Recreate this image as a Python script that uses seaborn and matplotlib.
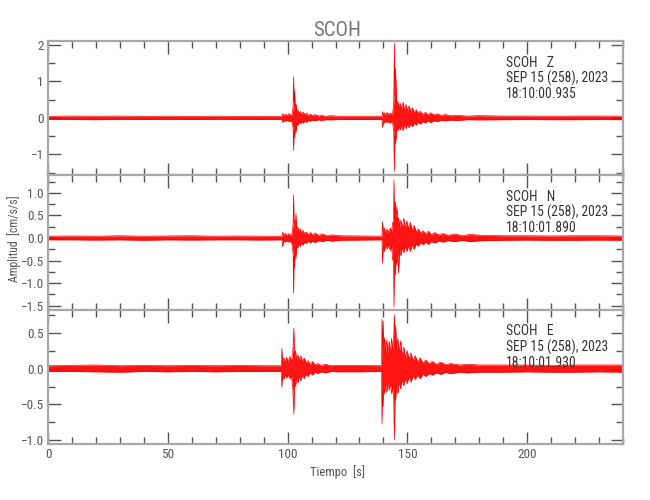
import numpy as np
import matplotlib
matplotlib.use("Agg")
import matplotlib.pyplot as plt
from matplotlib import font_manager as fm
import seaborn as sns
from matplotlib.ticker import MultipleLocator, FuncFormatter

# --- données : enveloppe (haut / bas) de chaque trace ---
station = "SCOH"
composantes = ["Z", "N", "E"]
date_txt = "SEP 15 (258), 2023"
heures = ["18:10:00.935", "18:10:01.890", "18:10:01.930"]

# composante Z
t_z = [0, 10, 20, 30, 40, 50, 60, 70, 80, 90, 97.5,
       97.9, 98.5, 99.2, 99.9, 100.6, 101.3, 101.9, 102.3, 102.5, 102.7, 102.9, 103.2, 103.5,
       103.9, 104.3, 104.8, 105.3, 105.9, 106.5, 107.2, 107.9, 108.7, 109.5, 110.5, 111.5,
       113, 114, 116, 118, 121, 130, 139.4,
       139.6, 140.0, 140.5, 141.0, 141.6, 142.2, 142.8, 143.4, 143.9, 144.3, 144.6, 144.8,
       145.0, 145.3, 145.6, 146.0, 146.5, 147.0, 147.6, 148.2, 148.8, 149.4, 150.0, 150.7,
       151.4, 152.1, 152.9, 153.7, 154.5, 155.4, 156.4, 157.5, 158.6, 159.8, 161, 162.5, 164,
       166, 168, 171, 175, 180, 190, 200, 210, 220, 230, 240]
z_up = [0.04, 0.05, 0.045, 0.05, 0.04, 0.045, 0.04, 0.045, 0.04, 0.04, 0.04,
        0.11, 0.07, 0.10, 0.06, 0.12, 0.07, 0.10, 0.30, 1.12, 0.45, 0.73, 0.30, 0.38,
        0.18, 0.22, 0.12, 0.18, 0.10, 0.16, 0.09, 0.13, 0.07, 0.10, 0.06, 0.09,
        0.05, 0.07, 0.045, 0.06, 0.045, 0.045, 0.045,
        0.17, 0.09, 0.14, 0.08, 0.15, 0.09, 0.13, 0.10, 0.16, 0.40, 2.04, 0.60,
        1.36, 0.86, 0.35, 0.45, 0.28, 0.40, 0.25, 0.43, 0.22, 0.37, 0.20, 0.33,
        0.18, 0.28, 0.15, 0.22, 0.13, 0.18, 0.10, 0.15, 0.09, 0.14, 0.08, 0.11, 0.07,
        0.09, 0.06, 0.07, 0.05, 0.06, 0.05, 0.05, 0.045, 0.05, 0.05, 0.045]
z_lo = [-0.04, -0.045, -0.05, -0.04, -0.045, -0.04, -0.045, -0.04, -0.04, -0.045, -0.04,
        -0.12, -0.08, -0.09, -0.07, -0.10, -0.08, -0.13, -0.30, -0.89, -0.35, -0.53, -0.25, -0.40,
        -0.16, -0.20, -0.12, -0.16, -0.11, -0.14, -0.09, -0.12, -0.07, -0.09, -0.06, -0.08,
        -0.05, -0.07, -0.05, -0.055, -0.045, -0.045, -0.045,
        -0.26, -0.10, -0.14, -0.09, -0.13, -0.10, -0.15, -0.09, -0.15, -0.40, -1.46, -0.50,
        -0.70, -0.55, -0.30, -0.35, -0.22, -0.33, -0.20, -0.35, -0.18, -0.30, -0.17, -0.27,
        -0.16, -0.24, -0.14, -0.20, -0.12, -0.17, -0.10, -0.14, -0.08, -0.13, -0.08, -0.10, -0.07,
        -0.08, -0.06, -0.07, -0.05, -0.055, -0.05, -0.045, -0.05, -0.05, -0.045, -0.05]

# composante N
t_n = [0, 10, 20, 30, 40, 50, 60, 70, 80, 90, 97.7,
       97.9, 98.4, 99.0, 99.7, 100.4, 101.1, 101.8, 102.3, 102.5, 102.7, 102.9, 103.2, 103.5,
       103.8, 104.2, 104.7, 105.2, 105.8, 106.4, 107.1, 107.8, 108.6, 109.5, 110.5, 111.5,
       113, 114.5, 116.5, 118.5, 122, 130, 139.4,
       139.6, 139.9, 140.4, 141.0, 141.6, 142.2, 142.8, 143.4, 143.9, 144.2, 144.4, 144.7,
       145.0, 145.3, 145.6, 146.0, 146.3, 146.8, 147.3, 147.9, 148.5, 149.1, 149.8, 150.5,
       151.2, 152.0, 152.8, 153.7, 154.6, 155.6, 156.6, 157.7, 158.8, 160, 161.5, 163, 165,
       167, 170, 173, 176, 181, 190, 200, 210, 220, 230, 240]
n_up = [0.04, 0.045, 0.04, 0.05, 0.04, 0.045, 0.05, 0.04, 0.045, 0.04, 0.04,
        0.13, 0.07, 0.10, 0.06, 0.10, 0.06, 0.10, 0.30, 0.95, 0.35, 0.40, 0.25, 0.54,
        0.20, 0.25, 0.14, 0.21, 0.12, 0.17, 0.10, 0.13, 0.08, 0.12, 0.07, 0.11,
        0.06, 0.09, 0.05, 0.07, 0.05, 0.045, 0.04,
        0.36, 0.15, 0.22, 0.12, 0.20, 0.12, 0.22, 0.15, 0.35, 0.30, 1.29, 0.45,
        0.80, 0.40, 0.70, 0.35, 0.45, 0.25, 0.40, 0.22, 0.44, 0.22, 0.38, 0.20,
        0.35, 0.18, 0.28, 0.14, 0.20, 0.11, 0.16, 0.09, 0.15, 0.08, 0.12, 0.07, 0.10,
        0.06, 0.09, 0.05, 0.08, 0.06, 0.05, 0.05, 0.045, 0.05, 0.05, 0.045]
n_lo = [-0.04, -0.04, -0.045, -0.04, -0.05, -0.04, -0.045, -0.04, -0.04, -0.045, -0.04,
        -0.19, -0.07, -0.09, -0.06, -0.09, -0.07, -0.12, -0.35, -1.22, -0.40, -0.65, -0.25, -0.45,
        -0.18, -0.22, -0.12, -0.19, -0.11, -0.16, -0.09, -0.12, -0.07, -0.11, -0.07, -0.10,
        -0.06, -0.08, -0.05, -0.07, -0.05, -0.045, -0.04,
        -0.56, -0.18, -0.30, -0.14, -0.25, -0.14, -0.28, -0.18, -0.50, -0.40, -1.53, -0.50,
        -0.82, -0.35, -0.60, -0.30, -0.78, -0.25, -0.40, -0.20, -0.33, -0.18, -0.30, -0.17,
        -0.30, -0.15, -0.25, -0.13, -0.18, -0.10, -0.15, -0.09, -0.14, -0.08, -0.11, -0.07, -0.09,
        -0.06, -0.08, -0.05, -0.08, -0.06, -0.05, -0.045, -0.05, -0.05, -0.045, -0.05]

# composante E
t_e = [0, 10, 20, 30, 40, 50, 60, 70, 80, 90, 97.4,
       97.6, 97.9, 98.4, 99.0, 99.6, 100.2, 100.9, 101.6, 102.2, 102.6, 102.9, 103.3, 103.8,
       104.3, 104.9, 105.5, 106.2, 106.9, 107.7, 108.5, 109.4, 110.4, 111.5, 112.6, 114, 116,
       118, 121, 130, 139.2,
       139.4, 139.7, 139.9, 140.2, 140.5, 140.9, 141.4, 141.9, 142.4, 142.9, 143.4, 143.9,
       144.3, 144.6, 144.9, 145.1, 145.5, 146.0, 146.6, 147.2, 147.8, 148.5, 149.2, 149.9,
       150.7, 151.5, 152.4, 153.3, 154.3, 155.3, 156.5, 157.7, 159, 160.5, 162, 164, 166, 168,
       172, 175, 180, 190, 200, 210, 220, 230, 240]
e_up = [0.04, 0.045, 0.05, 0.04, 0.045, 0.04, 0.045, 0.04, 0.045, 0.04, 0.04,
        0.28, 0.10, 0.15, 0.09, 0.16, 0.09, 0.17, 0.10, 0.25, 0.56, 0.15, 0.25, 0.12,
        0.19, 0.11, 0.18, 0.10, 0.15, 0.08, 0.11, 0.06, 0.10, 0.05, 0.07, 0.045, 0.06,
        0.04, 0.045, 0.045, 0.04,
        0.69, 0.30, 0.66, 0.25, 0.43, 0.22, 0.40, 0.20, 0.38, 0.22, 0.42, 0.25,
        0.45, 0.75, 0.30, 0.60, 0.25, 0.42, 0.22, 0.39, 0.18, 0.30, 0.15, 0.25,
        0.13, 0.22, 0.11, 0.18, 0.09, 0.15, 0.08, 0.12, 0.07, 0.10, 0.06, 0.09, 0.055, 0.07,
        0.05, 0.06, 0.05, 0.05, 0.05, 0.045, 0.05, 0.05, 0.05]
e_lo = [-0.04, -0.04, -0.045, -0.05, -0.04, -0.045, -0.04, -0.045, -0.04, -0.04, -0.04,
        -0.26, -0.10, -0.15, -0.08, -0.13, -0.09, -0.14, -0.10, -0.30, -0.63, -0.15, -0.25, -0.12,
        -0.20, -0.10, -0.17, -0.09, -0.14, -0.08, -0.11, -0.06, -0.09, -0.05, -0.07, -0.045, -0.06,
        -0.04, -0.045, -0.045, -0.04,
        -0.77, -0.30, -0.53, -0.22, -0.35, -0.20, -0.33, -0.18, -0.30, -0.20, -0.35, -0.25,
        -0.45, -0.99, -0.30, -0.44, -0.20, -0.35, -0.18, -0.28, -0.15, -0.24, -0.13, -0.21,
        -0.11, -0.19, -0.10, -0.15, -0.09, -0.14, -0.08, -0.11, -0.07, -0.09, -0.06, -0.08, -0.055, -0.07,
        -0.05, -0.06, -0.05, -0.05, -0.045, -0.05, -0.05, -0.045, -0.05]

traces = [(t_z, z_up, z_lo), (t_n, n_up, n_lo), (t_e, e_up, e_lo)]
ylims = [(-1.57, 2.1), (-1.59, 1.39), (-1.05, 0.82)]
ymaj = [1, 0.5, 0.5]
ymin_ = [0.5, 0.25, 0.25]
yfmt = ["{:g}", "{:.1f}", "{:.1f}"]

sns.set_style("ticks")

# police étroite si disponible (le tracé d'origine utilise une police fine et serrée)
noms = {f.name for f in fm.fontManager.ttflist}
police = "DejaVu Sans"
for cand in ["Liberation Sans Narrow", "Roboto Condensed", "Open Sans Condensed",
             "DejaVu Sans Condensed"]:
    if cand in noms:
        police = cand
        break
plt.rcParams["font.family"] = [police, "DejaVu Sans"]
if police == "DejaVu Sans":
    etroits = [f.stretch for f in fm.fontManager.ttflist
               if f.name == "DejaVu Sans" and f.stretch not in ("normal", 500)]
    if etroits:
        plt.rcParams["font.stretch"] = etroits[0]

gris_axe = "#a8a8a8"
gris_txt = "#555555"

fig = plt.figure(figsize=(6.5, 5), dpi=100)
gs = fig.add_gridspec(3, 1, left=48 / 650, right=623 / 650, top=1 - 41 / 500,
                      bottom=1 - 444 / 500, hspace=0)

for i, (t, up, lo) in enumerate(traces):
    ax = fig.add_subplot(gs[i])
    sns.lineplot(x=t, y=up, ax=ax, color="red", lw=0.5, estimator=None)
    sns.lineplot(x=t, y=lo, ax=ax, color="red", lw=0.5, estimator=None)
    ax.fill_between(t, lo, up, color="red", lw=0, alpha=0.92)

    ax.set_xlim(0, 240)
    ax.set_ylim(*ylims[i])
    ax.xaxis.set_major_locator(MultipleLocator(50))
    ax.xaxis.set_minor_locator(MultipleLocator(10))
    ax.yaxis.set_major_locator(MultipleLocator(ymaj[i]))
    ax.yaxis.set_minor_locator(MultipleLocator(ymin_[i]))
    f = yfmt[i]
    ax.yaxis.set_major_formatter(FuncFormatter(lambda v, p, f=f: f.format(v).replace("-", "\u2212")))
    ax.tick_params(which="both", direction="in", top=True, right=True, colors=gris_txt,
                   labelsize=9.5, width=1, pad=3)
    ax.tick_params(which="major", length=9)
    ax.tick_params(which="minor", length=5)
    for s in ax.spines.values():
        s.set_color(gris_axe)
        s.set_linewidth(1.6)
    if i < 2:
        ax.set_xticklabels([])
    ax.set_xlabel("")
    ax.set_ylabel("")

    ax.text(0.797, 0.892, f"{station}   {composantes[i]}\n{date_txt}\n{heures[i]}",
            transform=ax.transAxes, ha="left", va="top", fontsize=9.8,
            color="#333333", linespacing=1.1)

fig.text(0.519, 0.94, station, ha="center", va="center", fontsize=15, color="#777777")
fig.text(0.519, 0.056, "Tiempo  [s]", ha="center", va="center", fontsize=9, color=gris_txt)
fig.text(0.022, 0.522, "Amplitud  [cm/s/s]", ha="center", va="center", rotation=90,
         fontsize=8.5, color=gris_txt)

fig.savefig("out.png", dpi=100)
